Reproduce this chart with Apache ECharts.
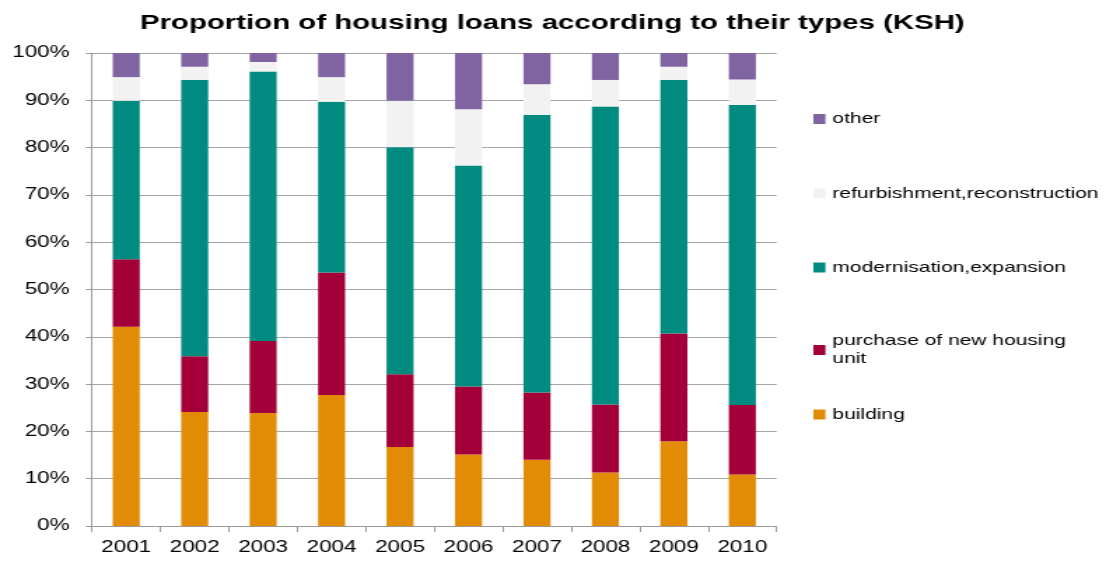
<!DOCTYPE html>
<html>
<head>
<meta charset="utf-8">
<title>Proportion of housing loans according to their types (KSH)</title>
<script src="https://cdn.jsdelivr.net/npm/echarts@6/dist/echarts.min.js"></script>
<style>
  html, body { margin: 0; padding: 0; background: #ffffff; overflow: hidden; }
  /* the chart is laid out narrow and widened horizontally, giving the wide lettering */
  #chart { width: 788.57px; height: 561px; transform: scaleX(1.4); transform-origin: 0 0; }
</style>
</head>
<body>
<div id="chart"></div>
<script>
// Years on the category axis
const years = ['2001', '2002', '2003', '2004', '2005', '2006', '2007', '2008', '2009', '2010'];

// Share of housing loans by type, percent of the yearly total
const building       = [42.1, 24.1, 23.9, 27.7, 16.7, 15.1, 14.0, 11.3, 17.9, 10.9];
const purchase       = [14.3, 11.8, 15.2, 25.9, 15.4, 14.4, 14.2, 14.4, 22.8, 14.7];
const modernisation  = [33.5, 58.4, 57.0, 36.1, 48.0, 46.7, 58.7, 63.0, 53.6, 63.4];
const refurbishment  = [5.0, 2.8, 2.0, 5.2, 9.8, 11.9, 6.5, 5.6, 2.8, 5.4];
const other          = [5.1, 2.9, 1.9, 5.1, 10.1, 11.9, 6.6, 5.7, 2.9, 5.6];

// Value-axis ticks
const yMin = 0, yMax = 100, yStep = 10;

const names = {
  building: 'building',
  purchase: 'purchase of new housing unit',
  modernisation: 'modernisation,expansion',
  refurbishment: 'refurbishment,reconstruction',
  other: 'other'
};

const colors = {
  building: '#e28c06',
  purchase: '#a3003a',
  modernisation: '#008a80',
  refurbishment: '#f2f2f2',
  other: '#8064a2'
};

const font = 'Liberation Sans, Arial, sans-serif';

function barSeries(key, values) {
  return {
    name: names[key],
    type: 'bar',
    stack: 'total',
    barWidth: 19.3,
    data: values,
    itemStyle: { color: colors[key] },
    emphasis: { disabled: true }
  };
}

function legendItem(key, top, text, textStyle) {
  return {
    show: true,
    selectedMode: false,
    orient: 'vertical',
    left: 581,
    top: top,
    padding: 0,
    itemWidth: 8.6,
    itemHeight: 10,
    icon: 'rect',
    data: [names[key]],
    formatter: text || '{name}',
    textStyle: textStyle || { fontFamily: font, fontSize: 15, color: '#000000' }
  };
}

// two-line entry: top padding keeps the marker level with the first line
const purchaseLegend = legendItem('purchase', 323, 'purchase of new housing\nunit',
  { fontFamily: font, fontSize: 15, color: '#000000', lineHeight: 18, padding: [18, 0, 0, 0] });

const chart = echarts.init(document.getElementById('chart'), null, { renderer: 'canvas' });

chart.setOption({
  animation: false,
  backgroundColor: '#ffffff',
  title: {
    text: 'Proportion of housing loans according to their types (KSH)',
    left: 'center',
    top: 8,
    textStyle: { fontFamily: font, fontSize: 21, fontWeight: 'bold', color: '#000000' }
  },
  legend: [
    legendItem('other', 111.5),
    legendItem('refurbishment', 186),
    legendItem('modernisation', 260),
    purchaseLegend,
    legendItem('building', 407)
  ],
  grid: { left: 65.7, right: 234.3, top: 53, bottom: 35, containLabel: false },
  xAxis: {
    type: 'category',
    data: years,
    boundaryGap: true,
    axisLine: { lineStyle: { color: '#9a9a9a', width: 1 } },
    axisTick: { show: true, alignWithLabel: false, length: 6, lineStyle: { color: '#9a9a9a' } },
    axisLabel: { fontFamily: font, fontSize: 16, color: '#000000', margin: 14 },
    splitLine: { show: false }
  },
  yAxis: {
    type: 'value',
    min: yMin,
    max: yMax,
    interval: yStep,
    axisLine: { show: true, lineStyle: { color: '#9a9a9a', width: 1 } },
    axisTick: { show: true, length: 4.3, lineStyle: { color: '#9a9a9a' } },
    axisLabel: { fontFamily: font, fontSize: 16, color: '#000000', margin: 16, formatter: '{value}%' },
    splitLine: { show: true, lineStyle: { color: '#a6a6a6', width: 1 } }
  },
  series: [
    barSeries('building', building),
    barSeries('purchase', purchase),
    barSeries('modernisation', modernisation),
    barSeries('refurbishment', refurbishment),
    barSeries('other', other)
  ]
});
</script>
</body>
</html>
